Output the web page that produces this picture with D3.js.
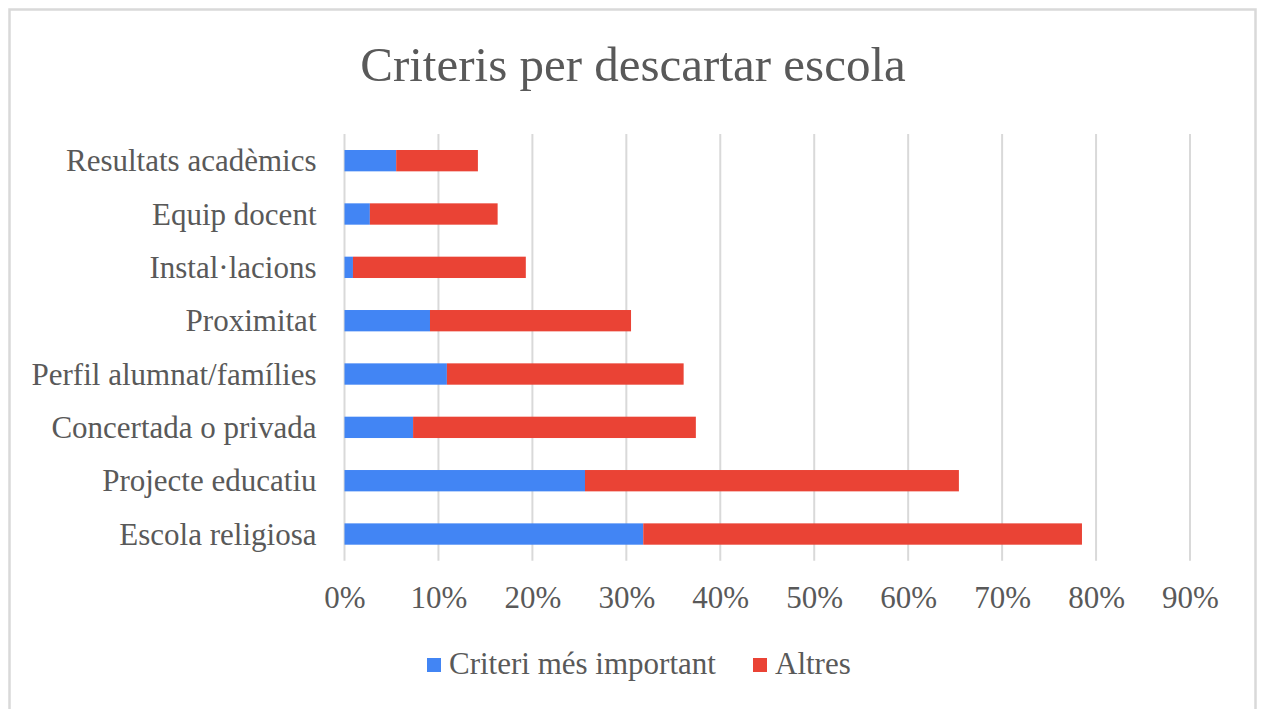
<!DOCTYPE html>
<html>
<head>
<meta charset="utf-8">
<script src="https://cdn.jsdelivr.net/npm/d3@7"></script>
<style>
  body { margin: 0; background: #fff; }
  text { font-family: "Liberation Serif", "Times New Roman", serif; fill: #595959; }
</style>
</head>
<body>
<svg id="chart"></svg>
<script>
// dades (llegides del gràfic)
const categories = [
    "Resultats acadèmics",
    "Equip docent",
    "Instal·lacions",
    "Proximitat",
    "Perfil alumnat/famílies",
    "Concertada o privada",
    "Projecte educatiu",
    "Escola religiosa"
];
const seriesNames = ["Criteri més important", "Altres"];
const important = [5.5, 2.7, 0.9, 9.1, 10.9, 7.3, 25.6, 31.8];
const altres = [8.7, 13.6, 18.4, 21.4, 25.2, 30.1, 39.8, 46.7];
const xTicks = [0, 10, 20, 30, 40, 50, 60, 70, 80, 90];
const colors = ["#4285F4", "#EA4335"];

const width = 1261;
const height = 709;
const plot = { left: 344.5, right: 1190, top: 134, bottom: 560.7 };

let svg = d3.select("#chart").attr("width", width).attr("height", height);

// marc del gràfic
svg.append("rect")
    .attr("x", 9.5).attr("y", 9.5)
    .attr("width", 1246).attr("height", 720)
    .attr("fill", "#fff")
    .attr("stroke", "#d9d9d9")
    .attr("stroke-width", 2.5);

svg.append("text")
    .attr("x", 633)
    .attr("y", 81)
    .attr("text-anchor", "middle")
    .style("font-size", "49px")
    .text("Criteris per descartar escola");

let scX = d3.scaleLinear().domain([0, 90]).range([plot.left, plot.right]);
let scY = d3.scaleBand()
    .domain(categories)
    .range([plot.top, plot.bottom])
    .paddingInner(0.6)
    .paddingOuter(0.3);

// línies de graella
svg.append("g")
    .selectAll("line")
    .data(xTicks)
    .enter()
    .append("line")
    .attr("x1", d => scX(d)).attr("x2", d => scX(d))
    .attr("y1", plot.top).attr("y2", plot.bottom)
    .attr("stroke", "#d9d9d9")
    .attr("stroke-width", 2);

// eix X
let axisX = d3.axisBottom(scX).tickValues(xTicks).tickFormat(d => d + "%").tickSize(0).tickPadding(0);
let gx = svg.append("g")
    .attr("transform", `translate(0, ${plot.bottom})`)
    .call(axisX);
gx.select(".domain").remove();
gx.selectAll("text")
    .attr("y", 47)
    .attr("dy", 0)
    .style("font-size", "31px")
    .style("font-family", "Liberation Serif, serif")
    .attr("fill", "#595959");

// eix Y
let axisY = d3.axisLeft(scY).tickSize(0).tickPadding(28);
let gy = svg.append("g")
    .attr("transform", `translate(${plot.left}, 0)`)
    .call(axisY);
gy.select(".domain").remove();
gy.selectAll("text")
    .attr("dy", "0.34em")
    .style("font-size", "31px")
    .style("font-family", "Liberation Serif, serif")
    .attr("fill", "#595959");

// barres apilades
let rows = categories.map((c, i) => ({ cat: c, important: important[i], altres: altres[i] }));
let stack = d3.stack().keys(["important", "altres"])(rows);

stack.forEach((layer, k) => {
    svg.append("g")
        .selectAll("rect")
        .data(layer)
        .enter()
        .append("rect")
        .attr("x", d => scX(d[0]))
        .attr("y", d => scY(d.data.cat))
        .attr("width", d => scX(d[1]) - scX(d[0]))
        .attr("height", scY.bandwidth())
        .attr("fill", colors[k]);
});

// llegenda
const legendX = [427, 753];
seriesNames.forEach((name, i) => {
    svg.append("rect")
        .attr("x", legendX[i]).attr("y", 658)
        .attr("width", 14).attr("height", 14)
        .attr("fill", colors[i]);
    svg.append("text")
        .attr("x", legendX[i] + 22)
        .attr("y", 674)
        .style("font-size", "31px")
        .text(name);
});
</script>
</body>
</html>
